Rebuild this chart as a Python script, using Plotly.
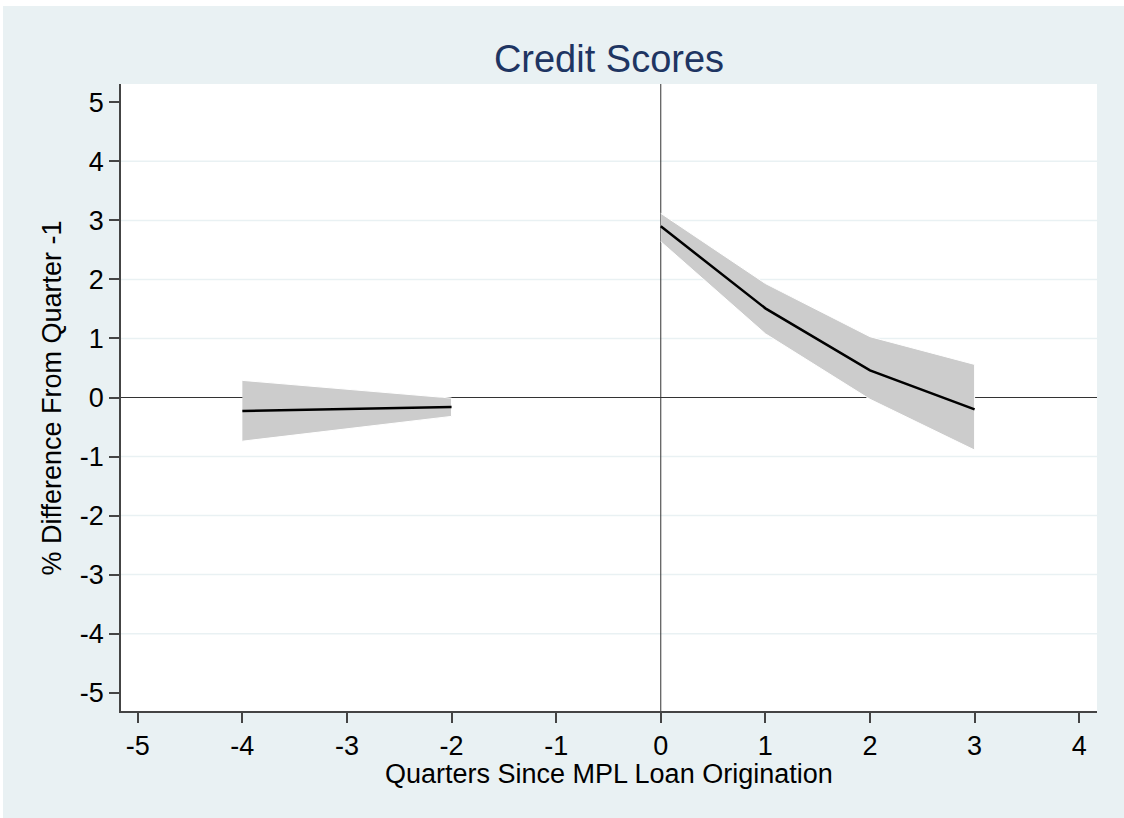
import plotly.graph_objects as go

# ---- data ----
pre_quarters = [-4, -3, -2]
pre_est = [-0.23, -0.20, -0.16]
pre_upper = [0.29, 0.14, -0.01]
pre_lower = [-0.74, -0.53, -0.32]

post_quarters = [0, 1, 2, 3]
post_est = [2.90, 1.51, 0.46, -0.20]
post_upper = [3.12, 1.93, 1.03, 0.56]
post_lower = [2.64, 1.08, -0.03, -0.89]

x_ticks = [-5, -4, -3, -2, -1, 0, 1, 2, 3, 4]
x_tick_labels = ["-5", "-4", "-3", "-2", "-1", "0", "1", "2", "3", "4"]
y_ticks = [-5, -4, -3, -2, -1, 0, 1, 2, 3, 4, 5]
y_tick_labels = ["-5", "-4", "-3", "-2", "-1", "0", "1", "2", "3", "4", "5"]

title_text = "Credit Scores"
x_title = "Quarters Since MPL Loan Origination"
y_title = "% Difference From Quarter -1"

BG = "#E9F1F3"
FONT = "Liberation Sans, Arial, sans-serif"

fig = go.Figure()

for xs, up, lo, est in [(pre_quarters, pre_upper, pre_lower, pre_est),
                        (post_quarters, post_upper, post_lower, post_est)]:
    fig.add_trace(go.Scatter(
        x=list(xs) + list(xs)[::-1],
        y=list(up) + list(lo)[::-1],
        fill="toself", fillcolor="#CCCCCC",
        line=dict(color="white", width=1),
        mode="lines", hoverinfo="skip", showlegend=False))
    fig.add_trace(go.Scatter(
        x=xs, y=est, mode="lines",
        line=dict(color="black", width=2.5),
        showlegend=False))

shapes = []
# horizontal gridlines (not at the extremes, not at zero)
for v in y_ticks:
    if v in (min(y_ticks), max(y_ticks), 0):
        continue
    shapes.append(dict(type="line", xref="paper", yref="y", x0=0, x1=1, y0=v, y1=v,
                       line=dict(color=BG, width=1.5), layer="below"))
# reference lines at zero
shapes.append(dict(type="line", xref="paper", yref="y", x0=0, x1=1, y0=0, y1=0,
                   line=dict(color="#333333", width=1), layer="below"))
shapes.append(dict(type="line", xref="x", yref="paper", x0=0, x1=0, y0=0, y1=1,
                   line=dict(color="#333333", width=1), layer="below"))

axis_common = dict(
    showgrid=False, zeroline=False,
    showline=True, linecolor="#444444", linewidth=1.5,
    ticks="outside", ticklen=10, tickwidth=1.5, tickcolor="#444444",
    tickfont=dict(family=FONT, size=27, color="black"),
)

fig.update_layout(
    width=1121, height=812,
    margin=dict(l=118, r=27, t=78, b=107, autoexpand=False),
    paper_bgcolor=BG, plot_bgcolor="white",
    showlegend=False,
    title=dict(text=title_text, x=0.5, xref="paper", xanchor="center",
               y=1 - 53 / 812, yref="container", yanchor="middle",
               font=dict(family=FONT, size=38, color="#1E3562")),
    xaxis=dict(range=[-5.16, 4.17], tickvals=x_ticks, ticktext=x_tick_labels, **axis_common),
    yaxis=dict(range=[-5.31, 5.31], tickvals=y_ticks, ticktext=y_tick_labels, **axis_common),
    shapes=shapes,
    annotations=[
        dict(text=x_title, xref="paper", yref="paper", x=0.5, y=-0.1,
             xanchor="center", yanchor="middle", showarrow=False,
             font=dict(family=FONT, size=27, color="black")),
        dict(text=y_title, xref="paper", yref="paper", x=-0.0707, y=0.5,
             xanchor="center", yanchor="middle", textangle=-90, showarrow=False,
             font=dict(family=FONT, size=27, color="black")),
    ],
)

fig.write_html("out.html", post_script="document.body.style.margin='6px 0 0 3px';")
